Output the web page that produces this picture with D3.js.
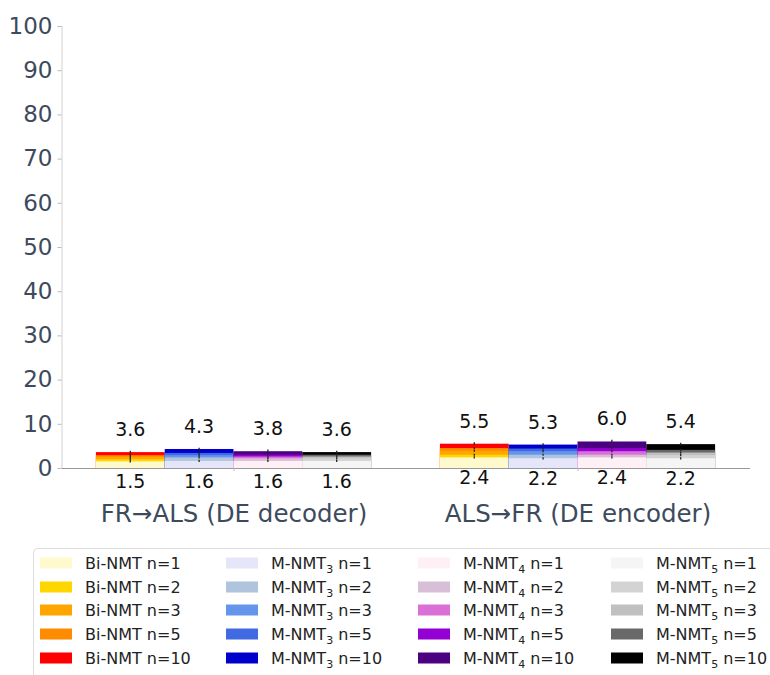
<!DOCTYPE html>
<html>
<head>
<meta charset="utf-8">
<script src="https://cdn.jsdelivr.net/npm/d3@7"></script>
<style>
  html, body { margin: 0; padding: 0; background: #fff; }
  svg { display: block; font-family: "DejaVu Sans", sans-serif; }
</style>
</head>
<body>
<script>
// ---- data ----
const categories = ["FR→ALS (DE decoder)", "ALS→FR (DE encoder)"];
const models = ["Bi-NMT", "M-NMT", "M-NMT", "M-NMT"];
const modelSubs = ["", "3", "4", "5"];
const nValues = [1, 2, 3, 5, 10];
const yTicks = [0, 10, 20, 30, 40, 50, 60, 70, 80, 90, 100];

// values[group] for n = 1, 2, 3, 5, 10
const biNMT  = [[1.5, 2.0, 2.5, 2.9, 3.6], [2.4, 3.0, 3.9, 4.5, 5.5]];
const mNMT3  = [[1.6, 2.4, 2.9, 3.4, 4.3], [2.2, 3.0, 3.8, 4.4, 5.3]];
const mNMT4  = [[1.6, 2.2, 2.6, 3.0, 3.8], [2.4, 3.0, 3.8, 4.5, 6.0]];
const mNMT5  = [[1.6, 2.2, 2.6, 3.0, 3.6], [2.2, 2.9, 3.5, 4.1, 5.4]];
const biErr  = [[0.25, 0.25, 0.25, 0.25, 0.3], [0.25, 0.25, 0.25, 0.25, 0.3]];
const m3Err  = [[0.25, 0.25, 0.25, 0.25, 0.3], [0.25, 0.25, 0.25, 0.25, 0.3]];
const m4Err  = [[0.25, 0.25, 0.25, 0.25, 0.4], [0.25, 0.25, 0.25, 0.25, 0.4]];
const m5Err  = [[0.25, 0.25, 0.25, 0.25, 0.3], [0.25, 0.25, 0.25, 0.25, 0.3]];

const biColors = ["#fffacd", "#ffd700", "#ffa500", "#ff8c00", "#ff0000"];
const m3Colors = ["#e6e6fa", "#b0c4de", "#6495ed", "#4169e1", "#0000cd"];
const m4Colors = ["#fff0f5", "#d8bfd8", "#da70d6", "#9400d3", "#4b0082"];
const m5Colors = ["#f5f5f5", "#d3d3d3", "#c0c0c0", "#696969", "#000000"];

const seriesValues = [biNMT, mNMT3, mNMT4, mNMT5];
const seriesErrors = [biErr, m3Err, m4Err, m5Err];
const seriesColors = [biColors, m3Colors, m4Colors, m5Colors];

// ---- layout ----
const W = 770, H = 675;
const svg = d3.select("body").append("svg").attr("width", W).attr("height", H);

const x = d3.scaleLinear().domain([-0.5, 1.5]).range([61.5, 749.5]);
const y = d3.scaleLinear().domain([0, 100]).range([468, 26]);
const barW = 0.2;
const offsets = [-0.3, -0.1, 0.1, 0.3];

// y axis
const yAxis = d3.axisLeft(y).tickValues(yTicks).tickSize(4).tickPadding(5);
const gy = svg.append("g").attr("transform", `translate(${x(-0.5)},0)`).call(yAxis);
gy.select(".domain").attr("stroke", "#d9d9d9").attr("stroke-width", 1.2);
gy.selectAll(".tick line").attr("stroke", "#bbb");
gy.selectAll(".tick text").attr("fill", "#3d4a5c").style("font-size", "23px")
  .style("font-family", "DejaVu Sans, sans-serif");

// x axis
const xAxis = d3.axisBottom(x).tickValues([0, 1]).tickFormat((d, i) => categories[i])
  .tickSize(3).tickSizeOuter(0).tickPadding(34);
const gx = svg.append("g").attr("transform", `translate(0,${y(0)})`).call(xAxis);
gx.select(".domain").attr("stroke", "#999").attr("stroke-width", 1.2);
gx.selectAll(".tick line").attr("stroke", "#bbb");
gx.selectAll(".tick text").attr("fill", "#3d4a5c").style("font-size", "24.5px")
  .style("font-family", "DejaVu Sans, sans-serif");

// bars: draw tallest (n=10) first so shorter ones sit on top
const plot = svg.append("g");
categories.forEach((cat, g) => {
  seriesValues.forEach((vals, s) => {
    const cx = g + offsets[s];
    for (let k = nValues.length - 1; k >= 0; k--) {
      const v = vals[g][k];
      plot.append("rect")
        .attr("x", x(cx - barW / 2))
        .attr("width", x(cx + barW / 2) - x(cx - barW / 2))
        .attr("y", y(v))
        .attr("height", y(0) - y(v))
        .attr("fill", seriesColors[s][k]);
    }
  });
});

// error bars
categories.forEach((cat, g) => {
  seriesValues.forEach((vals, s) => {
    const cx = g + offsets[s];
    nValues.forEach((n, k) => {
      const v = vals[g][k], e = seriesErrors[s][g][k];
      plot.append("line")
        .attr("x1", x(cx)).attr("x2", x(cx))
        .attr("y1", y(v - e)).attr("y2", y(v + e))
        .attr("stroke", "#222").attr("stroke-width", 1.3);
    });
  });
});

// value labels
categories.forEach((cat, g) => {
  seriesValues.forEach((vals, s) => {
    const cx = g + offsets[s];
    const top = vals[g][nValues.length - 1];
    const bot = vals[g][0];
    svg.append("text").attr("x", x(cx)).attr("y", y(top) - 16)
      .attr("text-anchor", "middle").style("font-size", "19px").attr("fill", "#111")
      .text(d3.format(".1f")(top));
    svg.append("text").attr("x", x(cx)).attr("y", y(bot) + 27)
      .attr("text-anchor", "middle").style("font-size", "19px").attr("fill", "#111")
      .text(d3.format(".1f")(bot));
  });
});

// legend
const leg = svg.append("g");
leg.append("rect").attr("x", 33.5).attr("y", 548.5).attr("width", 800).attr("height", 200)
  .attr("rx", 4).attr("fill", "#fff").attr("stroke", "#ddd");
const colX = [40, 226, 418, 611];
const rowY = [563, 587, 610, 634, 658];
models.forEach((m, s) => {
  nValues.forEach((n, k) => {
    leg.append("rect").attr("x", colX[s]).attr("y", rowY[k] - 5.5)
      .attr("width", 32).attr("height", 11).attr("fill", seriesColors[s][k]);
    const t = leg.append("text").attr("x", colX[s] + 45).attr("y", rowY[k] + 6)
      .style("font-size", "16px").attr("fill", "#222");
    t.append("tspan").text(m);
    if (modelSubs[s]) {
      t.append("tspan").attr("dy", 4).style("font-size", "11px").text(modelSubs[s]);
      t.append("tspan").attr("dy", -4).text(" n=" + n);
    } else {
      t.append("tspan").text(" n=" + n);
    }
  });
});
</script>
</body>
</html>
